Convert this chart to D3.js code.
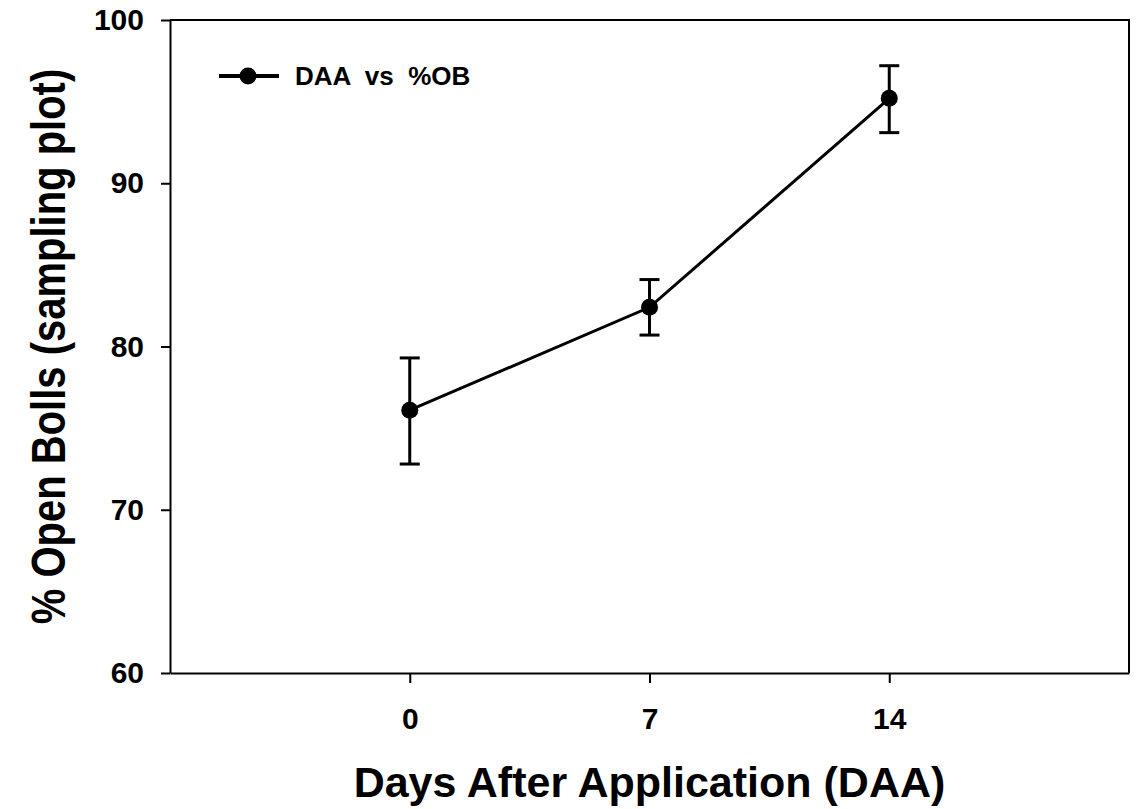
<!DOCTYPE html>
<html>
<head>
<meta charset="utf-8">
<script src="https://cdn.jsdelivr.net/npm/d3@7"></script>
<style>
  body { margin: 0; background: #fff; }
  svg { display: block; font-family: Arial, "Liberation Sans", sans-serif; font-weight: bold; }
</style>
</head>
<body>
<div id="chart"></div>
<script>
// data
const days = [0, 7, 14];
const openBolls = [76.1, 82.4, 95.2];
const errLow = [72.8, 80.7, 93.1];
const errHigh = [79.3, 84.1, 97.2];
const xTicks = [0, 7, 14];
const yTicks = [60, 70, 80, 90, 100];
const seriesName = 'DAA  vs  %OB';

const width = 1140;
const height = 809;
const margin = { top: 20, right: 11, bottom: 136, left: 170 };

const svg = d3.select('#chart')
  .append('svg')
  .attr('width', width)
  .attr('height', height);

const x = d3.scaleLinear()
  .domain([-7, 21])
  .range([margin.left, width - margin.right]);

const y = d3.scaleLinear()
  .domain([60, 100])
  .range([height - margin.bottom, margin.top]);

const data = days.map((d, i) => ({ day: d, value: openBolls[i], lo: errLow[i], hi: errHigh[i] }));

// frame (top and right lines)
svg.append('path')
  .attr('fill', 'none')
  .attr('stroke', '#000')
  .attr('stroke-width', 2)
  .attr('d', `M${x.range()[0]},${y(100)}H${x.range()[1]}V${y(60)}`);

const xAxis = g => g
  .attr('transform', `translate(0,${y(60)})`)
  .call(d3.axisBottom(x).tickValues(xTicks).tickSize(10).tickPadding(25).tickSizeOuter(0))
  .call(g => g.select('.domain').attr('stroke-width', 2))
  .call(g => g.selectAll('.tick line').attr('stroke-width', 2))
  .call(g => g.selectAll('.tick text').attr('font-size', 30).attr('fill', '#000'));

const yAxis = g => g
  .attr('transform', `translate(${x(-7)},0)`)
  .call(d3.axisLeft(y).tickValues(yTicks).tickSize(9).tickPadding(17).tickSizeOuter(0))
  .call(g => g.select('.domain').attr('stroke-width', 2))
  .call(g => g.selectAll('.tick line').attr('stroke-width', 2))
  .call(g => g.selectAll('.tick text').attr('font-size', 30).attr('fill', '#000'));

svg.append('g').call(xAxis).attr('font-family', null);
svg.append('g').call(yAxis).attr('font-family', null);

// error bars
const bars = svg.append('g')
  .attr('stroke', '#000')
  .attr('stroke-width', 3)
  .selectAll('g')
  .data(data)
  .join('g');

bars.append('line')
  .attr('x1', d => x(d.day))
  .attr('x2', d => x(d.day))
  .attr('y1', d => y(d.lo))
  .attr('y2', d => y(d.hi));

bars.selectAll('.cap')
  .data(d => [d.lo, d.hi].map(v => ({ day: d.day, v })))
  .join('line')
  .attr('class', 'cap')
  .attr('x1', d => x(d.day) - 10)
  .attr('x2', d => x(d.day) + 10)
  .attr('y1', d => y(d.v))
  .attr('y2', d => y(d.v));

svg.append('path')
  .datum(data)
  .attr('fill', 'none')
  .attr('stroke', '#000')
  .attr('stroke-width', 3)
  .attr('d', d3.line().x(d => x(d.day)).y(d => y(d.value)));

svg.append('g')
  .selectAll('circle')
  .data(data)
  .join('circle')
  .attr('cx', d => x(d.day))
  .attr('cy', d => y(d.value))
  .attr('r', 8.5)
  .attr('fill', '#000');

// legend
const legend = svg.append('g').attr('transform', 'translate(219,76)');
legend.append('line')
  .attr('x1', 0).attr('x2', 60)
  .attr('stroke', '#000').attr('stroke-width', 4);
legend.append('circle')
  .attr('cx', 29).attr('r', 8.5).attr('fill', '#000');
legend.append('text')
  .attr('x', 76).attr('y', 9)
  .attr('font-size', 26)
  .style('white-space', 'pre')
  .text(seriesName);

// axis titles
svg.append('text')
  .attr('x', (x.range()[0] + x.range()[1]) / 2)
  .attr('y', 797)
  .attr('text-anchor', 'middle')
  .attr('font-size', 43)
  .text('Days After Application (DAA)');

svg.append('text')
  .attr('transform', `translate(65,${(y(60) + y(100)) / 2}) rotate(-90) scale(1,1.2)`)
  .attr('text-anchor', 'middle')
  .attr('font-size', 40)
  .text('% Open Bolls (sampling plot)');
</script>
</body>
</html>
